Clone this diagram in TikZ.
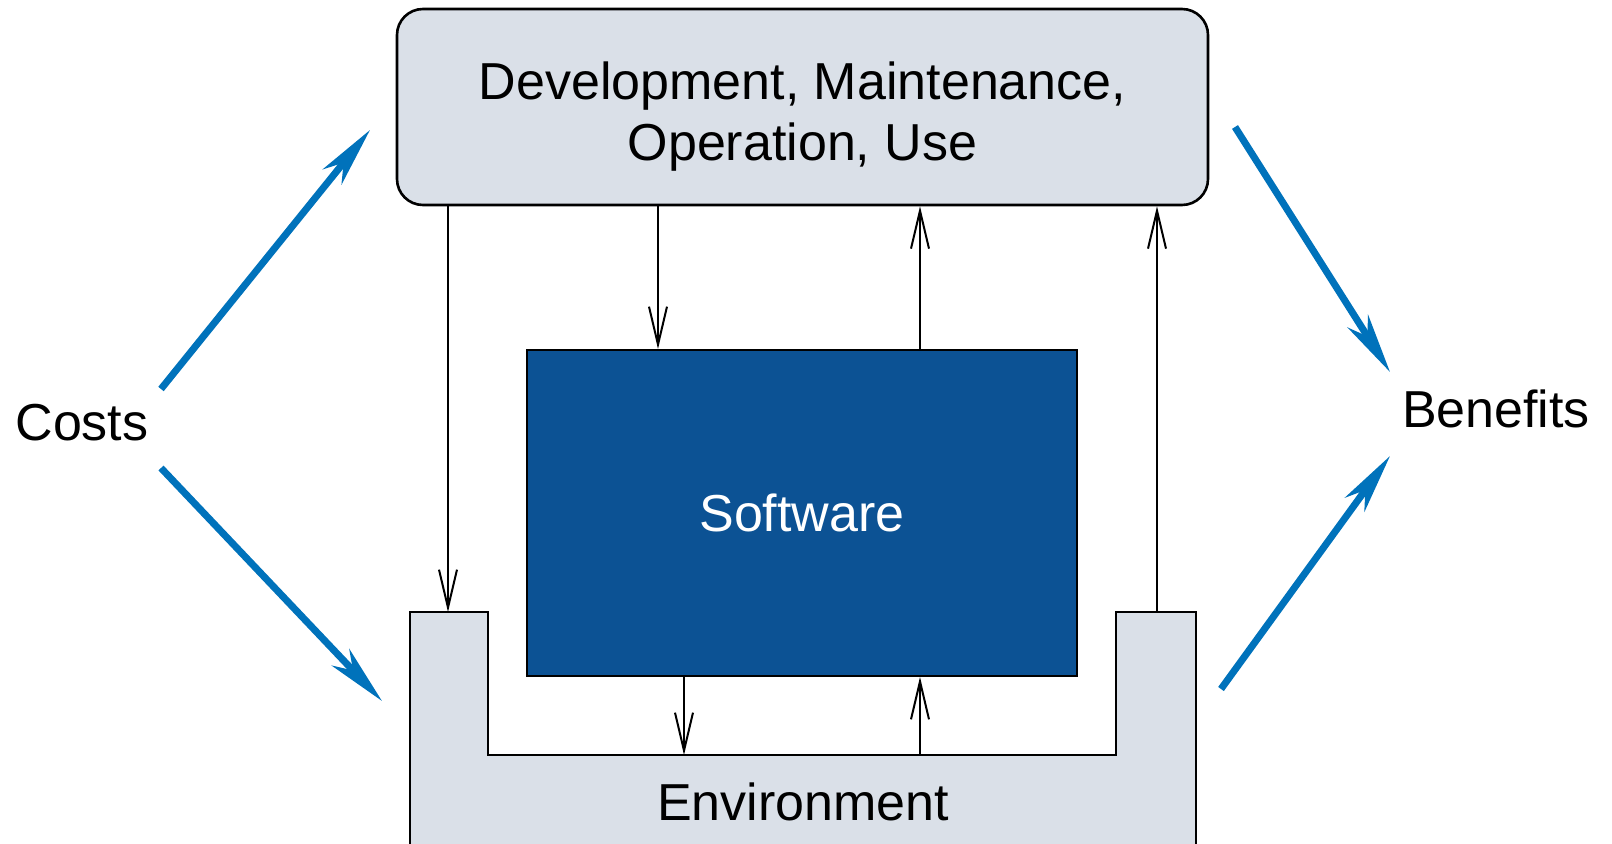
\documentclass[tikz,border=0pt]{standalone}
\usepackage{fontspec}
\setmainfont{Liberation Sans}
\usetikzlibrary{arrows.meta,positioning}
\definecolor{panelgray}{RGB}{218,224,232}
\definecolor{swblue}{RGB}{12,82,148}
\definecolor{arrowblue}{RGB}{0,114,187}

\begin{document}
\begin{tikzpicture}[x=0.5pt,y=-0.5pt,
    panel/.style={draw,line width=1.3pt,fill=panelgray},
    link/.style={line width=1pt,-{Straight Barb[length=19pt,width=9pt]}},
    gain/.style={arrowblue,line width=3.5pt,-{Stealth[length=30pt,width=12pt,inset=9pt]}},
    font=\fontsize{26pt}{30.5pt}\selectfont]
\useasboundingbox (0,0) rectangle (1612,844);

% upper panel
\node[panel,rounded corners=13pt,minimum width=405.5pt,minimum height=98pt] (dev) at (802.5,107) {};
\node[align=center] (devtext) at ([yshift=-5pt]dev.center) {Development, Maintenance,\\Operation, Use};

% environment, open at the bottom
\path[panel] (410,844) -- (410,612) -- (488,612) -- (488,755) -- (1116,755) -- (1116,612) -- (1196,612) -- (1196,844);
\node (env) at (803,802) {Environment};
\coordinate (lp) at (448,612);
\coordinate (rp) at (1157,612);
\coordinate (fl) at (803,755);

\node[draw,line width=1pt,fill=swblue,text=white,minimum width=275pt,minimum height=163pt] (sw) at (802,513) {Software};

\node (costs) at (82,423) {Costs};
\node (benefits) at (1496,409) {Benefits};

% thin flows
\draw[link] (dev.south -| lp) -- (lp);
\draw[link] ([xshift=-72pt]sw.north |- dev.south) -- ([xshift=-72pt]sw.north);
\draw[link] ([xshift=59pt]sw.north) -- ([xshift=59pt]sw.north |- dev.south);
\draw[link] (rp) -- (dev.south -| rp);
\draw[link] ([xshift=-59pt]sw.south) -- ([xshift=-59pt]sw.south |- fl);
\draw[link] ([xshift=59pt]sw.south |- fl) -- ([xshift=59pt]sw.south);

% costs and benefits
\coordinate (c1) at (161,389);
\coordinate (c1e) at (370,130);
\coordinate (c2) at (161,468);
\coordinate (c2e) at (382,701);
\coordinate (b1) at (1235,127);
\coordinate (b1e) at (1390,372);
\coordinate (b2) at (1221,689);
\coordinate (b2e) at (1390,456);
\draw[gain] (c1) -- (c1e);
\draw[gain] (c2) -- (c2e);
\draw[gain] (b1) -- (b1e);
\draw[gain] (b2) -- (b2e);
\end{tikzpicture}
\end{document}
